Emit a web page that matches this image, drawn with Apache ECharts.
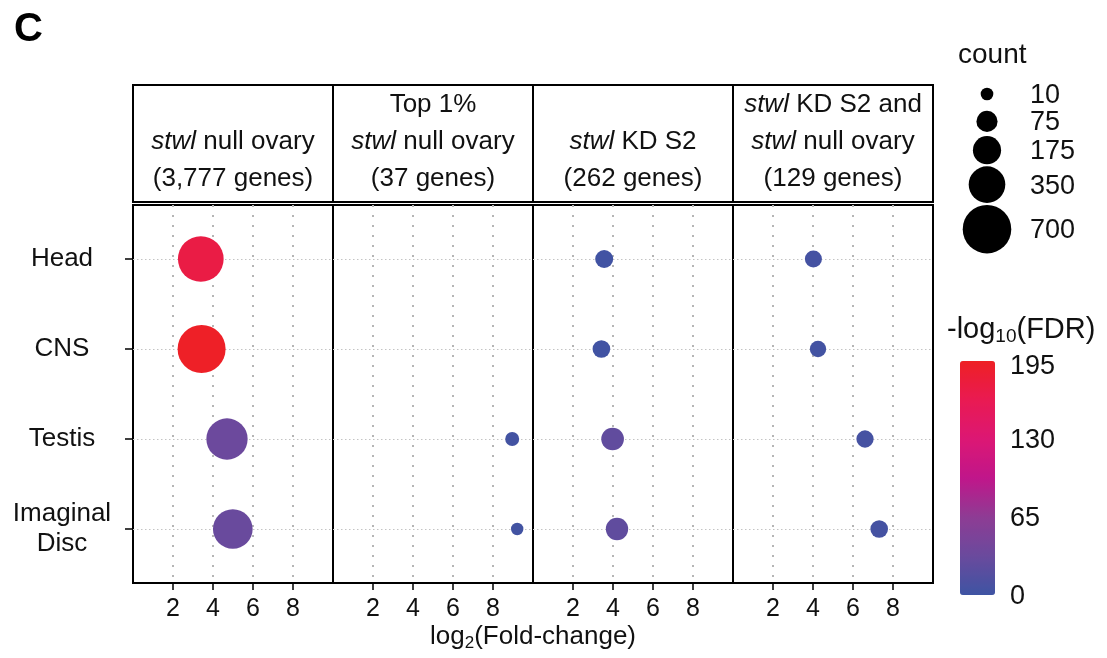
<!DOCTYPE html>
<html>
<head>
<meta charset="utf-8">
<title>Tissue enrichment of stwl-regulated genes</title>
<script src="https://cdn.jsdelivr.net/npm/echarts@6/dist/echarts.min.js"></script>
<style>
  html, body { margin: 0; padding: 0; background: #fff; }
  #chart { width: 1107px; height: 658px; }
</style>
</head>
<body>
<div id="chart"></div>
<script>
// ---- data -----------------------------------------------------------------
const tissues = ['Head', 'CNS', 'Testis', 'Imaginal\nDisc'];
const panelTitles = [
  ['{i|stwl} null ovary', '(3,777 genes)'],
  ['Top 1%', '{i|stwl} null ovary', '(37 genes)'],
  ['{i|stwl} KD S2', '(262 genes)'],
  ['{i|stwl} KD S2 and', '{i|stwl} null ovary', '(129 genes)']
];
const xTicks = [2, 4, 6, 8];
const countBreaks = [10, 75, 175, 350, 700];
const fdrBreaks = [0, 65, 130, 195];

// per panel, in tissue order: log2 fold-change, gene count, -log10(FDR)
const foldNull  = [3.39, 3.43, 4.70, 4.99];
const countNull = [606, 681, 473, 429];
const fdrNull   = [172, 193, 34, 32];

const foldTop  = [null, null, 8.96, 9.21];
const countTop = [null, null, 16, 9];
const fdrTop   = [null, null, 4, 3];

const foldKD  = [3.56, 3.42, 3.98, 4.20];
const countKD = [44, 41, 93, 89];
const fdrKD   = [2, 2, 26, 25];

const foldBoth  = [4.02, 4.25, 6.60, 7.31];
const countBoth = [36, 31, 38, 41];
const fdrBoth   = [5, 4, 6, 5];

// ---- layout / style --------------------------------------------------------
const FONT = 'Liberation Sans, Arial, Helvetica, sans-serif';
const PANEL_LEFT = 133, PANEL_W = 200;
const PLOT_TOP = 205, PLOT_H = 378;
const STRIP_TOP = 85, STRIP_H = 117;
const FDR_MAX = 195;
const fdrColors = ['#3E54A3', '#6A4A9D', '#8E3C94', '#C0168A', '#DC1774', '#E91A52', '#EE2024'];

// bubble diameter grows with the square root of the gene count
const sizeOf = c => 7.8 + 1.54 * Math.sqrt(c);

const panels = [
  [foldNull, countNull, fdrNull],
  [foldTop, countTop, fdrTop],
  [foldKD, countKD, fdrKD],
  [foldBoth, countBoth, fdrBoth]
];

const grids = [], xAxes = [], yAxes = [], series = [];
panels.forEach(([fold, count, fdr], p) => {
  grids.push({
    left: PANEL_LEFT + p * PANEL_W, top: PLOT_TOP, width: PANEL_W, height: PLOT_H,
    show: true, borderColor: '#000', borderWidth: 2, backgroundColor: 'transparent'
  });
  xAxes.push({
    type: 'value', gridIndex: p, min: 0, max: 10,
    axisLine: { show: false },
    axisTick: { show: true, customValues: xTicks, length: 7, lineStyle: { color: '#000', width: 1.5 } },
    axisLabel: { customValues: xTicks, margin: 14, fontSize: 25, color: '#111', fontFamily: FONT },
    splitLine: { show: true, lineStyle: { color: '#b5b5b5', width: 2, type: [2, 8] } }
  });
  yAxes.push({
    type: 'value', gridIndex: p, min: 0.4, max: 4.6, inverse: true,
    axisLine: { show: false },
    axisTick: { show: p === 0, customValues: [1, 2, 3, 4], length: 8, lineStyle: { color: '#000', width: 1.5 } },
    axisLabel: {
      show: p === 0, customValues: [1, 2, 3, 4],
      formatter: v => tissues[Math.round(v) - 1],
      align: 'center', margin: 71, fontSize: 26, lineHeight: 30, color: '#111', fontFamily: FONT,
      padding: [3, 0, 0, 0]
    },
    splitLine: { show: true, lineStyle: { color: '#c4c4c4', width: 1, type: [1.5, 2.5] } }
  });
  const data = [];
  fold.forEach((f, t) => { if (f !== null) data.push([f, t + 1, count[t], fdr[t]]); });
  series.push({
    type: 'scatter', xAxisIndex: p, yAxisIndex: p, data,
    symbolSize: v => sizeOf(v[2]),
    itemStyle: { opacity: 1 },
    emphasis: { disabled: true }, silent: true, z: 5
  });
});

// ---- decorations: strips, titles, legends -----------------------------------
const graphic = [];
const rich = {
  i: { fontStyle: 'italic', fontSize: 26, fontFamily: FONT, fill: '#111' },
  n: { fontSize: 26, fontFamily: FONT, fill: '#111' }
};
function txt(x, y, text, opts) {
  return {
    type: 'text', x, y, silent: true,
    style: Object.assign({
      text, fontSize: 26, fontFamily: FONT, fill: '#111',
      align: 'left', textAlign: 'left', verticalAlign: 'middle', textVerticalAlign: 'middle', rich
    }, opts || {})
  };
}

graphic.push(txt(14, 30, 'C', { fontSize: 40, fontWeight: 'bold', fill: '#000' }));

panelTitles.forEach((lines, p) => {
  const left = PANEL_LEFT + p * PANEL_W;
  graphic.push({
    type: 'rect', silent: true,
    shape: { x: left, y: STRIP_TOP, width: PANEL_W, height: STRIP_H },
    style: { fill: '#fff', stroke: '#000', lineWidth: 2 }
  });
  const lineGap = 37, lastY = 179;
  lines.forEach((line, k) => {
    const y = lastY - (lines.length - 1 - k) * lineGap;
    graphic.push(txt(left + PANEL_W / 2, y, line, { align: 'center', textAlign: 'center' }));
  });
});

// x-axis title with subscript
graphic.push(txt(PANEL_LEFT + 2 * PANEL_W, 637, '{n|log}{s|2}{n|(Fold-change)}', {
  align: 'center', textAlign: 'center',
  rich: {
    n: { fontSize: 26, fontFamily: FONT, fill: '#111', lineHeight: 30 },
    s: { fontSize: 17, fontFamily: FONT, fill: '#111', lineHeight: 17, verticalAlign: 'bottom' }
  }
}));

// size legend
graphic.push(txt(958, 55, 'count', { fontSize: 28 }));
let cy = 94, prevKey = 0;
countBreaks.forEach((c, k) => {
  const d = sizeOf(c);
  const key = Math.max(27.4, d + 2);
  if (k > 0) cy += (prevKey + key) / 2;
  prevKey = key;
  graphic.push({ type: 'circle', silent: true, shape: { cx: 987, cy, r: d / 2 }, style: { fill: '#000' } });
  graphic.push(txt(1030, cy + 1.5, String(c), { fontSize: 27 }));
});

// colour legend
const BAR_TOP = 361, BAR_H = 234, BAR_LEFT = 960, BAR_W = 35;
graphic.push(txt(947, 330, '{n|-log}{s|10}{n|(FDR)}', {
  rich: {
    n: { fontSize: 29, fontFamily: FONT, fill: '#111', lineHeight: 32 },
    s: { fontSize: 19, fontFamily: FONT, fill: '#111', lineHeight: 19, verticalAlign: 'bottom' }
  }
}));
fdrBreaks.forEach(v => {
  const y = BAR_TOP + (1 - v / FDR_MAX) * BAR_H + 2;
  graphic.push(txt(1010, Math.max(y, BAR_TOP + 6), String(v), { fontSize: 27 }));
});

const chart = echarts.init(document.getElementById('chart'), null, { renderer: 'canvas' });
chart.setOption({
  animation: false,
  backgroundColor: '#fff',
  grid: grids,
  xAxis: xAxes,
  yAxis: yAxes,
  series,
  visualMap: {
    type: 'continuous', dimension: 3, seriesIndex: [0, 1, 2, 3],
    min: 0, max: FDR_MAX, calculable: false, hoverLink: false,
    orient: 'vertical', left: BAR_LEFT, top: BAR_TOP, padding: 0,
    itemWidth: BAR_W, itemHeight: BAR_H, text: null,
    inRange: { color: fdrColors }
  },
  graphic
});
</script>
</body>
</html>
